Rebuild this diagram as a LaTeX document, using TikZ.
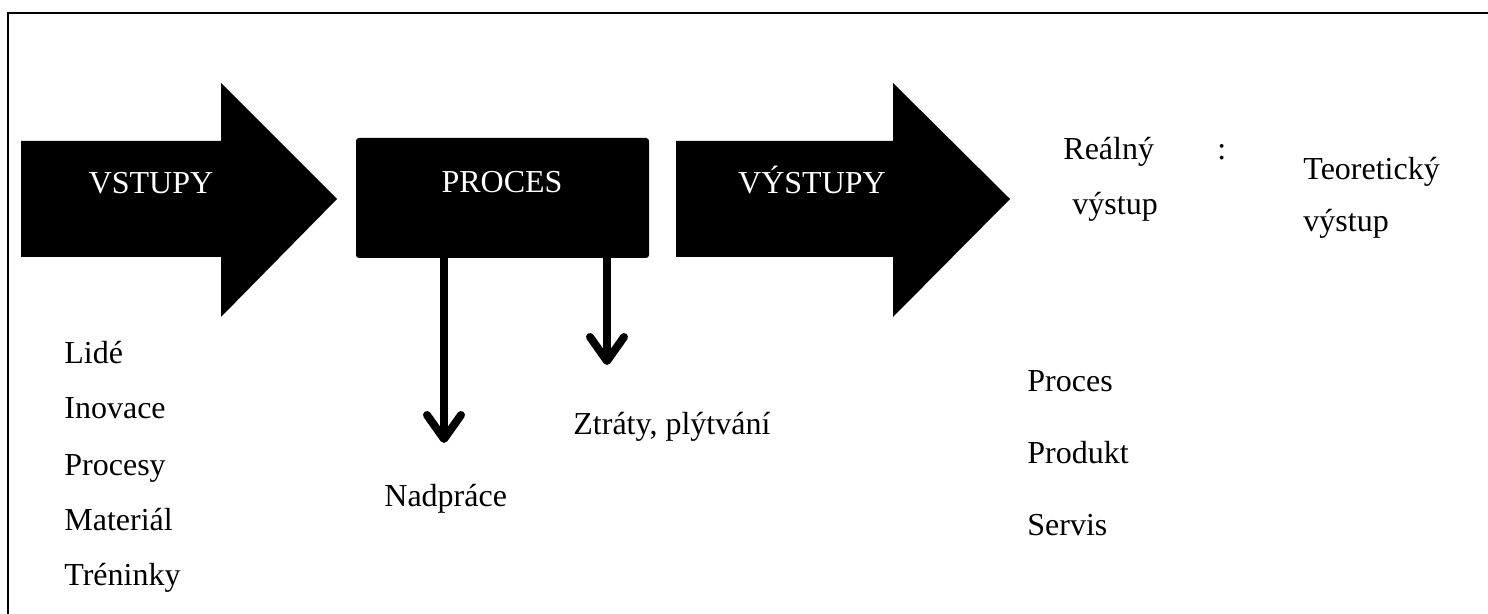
\documentclass[tikz,border=0pt]{standalone}
\usepackage{fontspec}
\setmainfont{Liberation Serif}
\usetikzlibrary{arrows.meta}

\begin{document}
\begin{tikzpicture}[x=0.5pt,y=-0.5pt,
	txt/.style={anchor=base west,inner sep=0pt,font=\fontsize{16}{20}\selectfont},
	wtxt/.style={anchor=base,inner sep=0pt,text=white,font=\fontsize{16}{20}\selectfont},
	dropline/.style={line width=4pt,-{Straight Barb[length=12pt,width=17pt,line cap=round,line join=round]}}]
	\useasboundingbox (0,0) rectangle (1488,614);
	\draw[line width=1.4pt] (8,614) -- (8,13) -- (1488,13);

	% the two block arrows and the process box
	\fill (21,141) -- (221,141) -- (221,83) -- (337,199) -- (221,317) -- (221,257) -- (21,257) -- cycle;
	\fill[rounded corners=1.5pt] (356,138) rectangle (649,258);
	\fill (676,141) -- (893,141) -- (893,83) -- (1010,199) -- (893,317) -- (893,257) -- (676,257) -- cycle;

	\node[wtxt] (vstupy) at (151,194) {VSTUPY};
	\node[wtxt] (proces) at (502,193) {PROCES};
	\node[wtxt] (vystupy) at (812,194) {VÝSTUPY};

	\node[txt] (realny) at (1063,160) {Reálný};
	\node[txt] (realnyVys) at (1072,215) {výstup};
	\node[txt] (colon) at (1217,160) {:};
	\node[txt] (teor) at (1303,180) {Teoretický};
	\node[txt] (teorVys) at (1303,232) {výstup};

	\node[txt] (in1) at (64,364) {Lidé};
	\node[txt] (in2) at (64,419) {Inovace};
	\node[txt] (in3) at (64,475) {Procesy};
	\node[txt] (in4) at (64,530) {Materiál};
	\node[txt] (in5) at (64,585) {Tréninky};

	\node[txt] (nadprace) at (384,506) {Nadpráce};
	\node[txt] (ztraty) at (573,435) {Ztráty, plýtvání};

	\node[txt] (out1) at (1027,392) {Proces};
	\node[txt] (out2) at (1027,463) {Produkt};
	\node[txt] (out3) at (1027,535) {Servis};

	\coordinate (nadTop) at (444,258);
	\coordinate (nadTip) at (444,443);
	\coordinate (ztrTop) at (607,258);
	\coordinate (ztrTip) at (607,365);

	\draw[dropline] (nadTop) -- (nadTip);
	\draw[dropline] (ztrTop) -- (ztrTip);
\end{tikzpicture}
\end{document}
